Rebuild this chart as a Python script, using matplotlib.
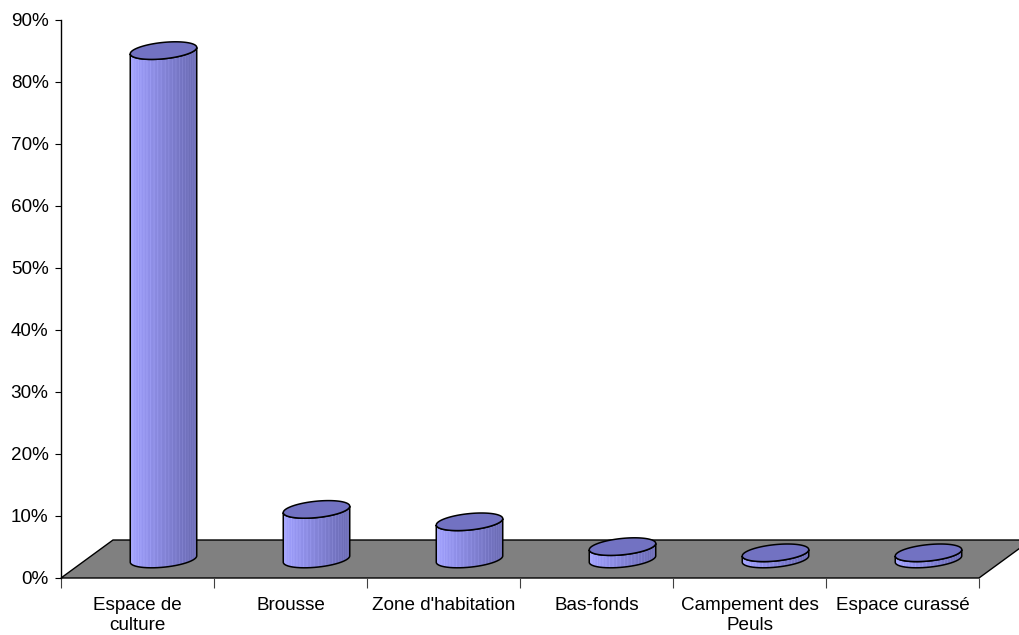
import numpy as np
import matplotlib
matplotlib.use("Agg")
import matplotlib.pyplot as plt
from matplotlib.patches import Polygon

plt.rcParams['font.family'] = ['Liberation Sans', 'DejaVu Sans']

# Land-use categories and their share of the surveyed area
categories = ["Espace de\nculture", "Brousse", "Zone d'habitation",
              "Bas-fonds", "Campement des\nPeuls", "Espace curassé"]
shares = [0.82, 0.08, 0.06, 0.02, 0.01, 0.01]
ytick_values = [0.0, 0.1, 0.2, 0.3, 0.4, 0.5, 0.6, 0.7, 0.8, 0.9]
ytick_labels = ["0%", "10%", "20%", "30%", "40%", "50%", "60%", "70%", "80%", "90%"]

W, H = 1019, 635
fig = plt.figure(figsize=(W / 100, H / 100), dpi=100)
fig.patch.set_facecolor("white")

# front plane of the pseudo-3D chart
x0, x1, y0, y1 = 61, 979, 578, 20
ax = fig.add_axes([x0 / W, (H - y0) / H, (x1 - x0) / W, (y0 - y1) / H])
n = len(categories)
ax.set_xlim(0, n)
ax.set_ylim(0, 0.9)
ax.patch.set_alpha(0)

px_x = (x1 - x0) / n        # pixels per category unit
px_y = (y0 - y1) / 0.9      # pixels per value unit

# oblique depth vector (floor goes back and up)
DX, DY = 52 / px_x, 38 / px_y

# grey floor
floor = Polygon([(0, 0), (n, 0), (n + DX, DY), (DX, DY)], closed=True,
                facecolor="#808080", edgecolor="black", lw=1.0,
                zorder=1, clip_on=False)
ax.add_patch(floor)

# cylinder geometry
R = 31 / px_x      # half width along the category axis
A = 12 / px_x      # depth component of the ellipse (x)
B = 8.8 / px_y     # depth component of the ellipse (y)
ext = np.hypot(R, A)
t_r = np.arctan2(A, R)

light = np.array([0xA0, 0xA0, 0xFF]) / 255
dark = np.array([0x68, 0x68, 0xB0]) / 255
top_col = "#7272C2"


def ellipse(cx, cy, t):
    return cx + R * np.cos(t) + A * np.sin(t), cy + B * np.sin(t)


for i, v in enumerate(shares):
    cx = i + 0.5 + DX / 2
    base = DY / 2
    top = base + v
    z = 2 + i

    tf = np.linspace(t_r, t_r - np.pi, 80)
    xt, yt = ellipse(cx, top, tf)
    xb, yb = ellipse(cx, base, tf[::-1])
    side_pts = np.column_stack([np.concatenate([xt, xb]),
                                np.concatenate([yt, yb])])
    side = Polygon(side_pts, closed=True, facecolor="none",
                   edgecolor="black", lw=1.1, zorder=z + 0.2)
    ax.add_patch(side)

    # horizontal shading with faint facet streaks
    npx = 132
    f = np.linspace(0, 1, npx)
    cols = light[None, :] * (1 - f[:, None]) + dark[None, :] * f[:, None]
    phis = np.linspace(0.15, np.pi - 0.15, 26)
    for ph in phis:
        k = int((1 - np.cos(ph)) / 2 * (npx - 1))
        cols[k] = np.minimum(cols[k] + 0.09, 1)
    img = np.repeat(cols[None, :, :], 2, axis=0)
    clip = Polygon(side_pts, closed=True, transform=ax.transData)
    im = ax.imshow(img, extent=[cx - ext, cx + ext, base - B - 0.001, top + B],
                   aspect="auto", interpolation="bilinear", zorder=z,
                   origin="lower")
    im.set_clip_path(clip)

    ta = np.linspace(0, 2 * np.pi, 160)
    xe, ye = ellipse(cx, top, ta)
    cap = Polygon(np.column_stack([xe, ye]), closed=True, facecolor=top_col,
                  edgecolor="black", lw=1.1, zorder=z + 0.3)
    ax.add_patch(cap)

ax.set_xlim(0, n)
ax.set_ylim(0, 0.9)

for s in ["top", "right", "bottom"]:
    ax.spines[s].set_visible(False)
ax.spines["left"].set_linewidth(1.0)

ax.set_yticks(ytick_values)
ax.set_yticklabels(ytick_labels)
ax.tick_params(axis="y", length=4, width=0.8, pad=5, labelsize=13.6)

ax.set_xticks(np.arange(n + 1))
ax.set_xticklabels([""] * (n + 1))
ax.set_xticks(np.arange(n) + 0.5, minor=True)
ax.set_xticklabels(categories, minor=True)
ax.tick_params(axis="x", which="major", length=7.5, width=0.8, color="#404040")
ax.tick_params(axis="x", which="minor", length=0, pad=14, labelsize=13.6)

fig.savefig("out.png", dpi=100, facecolor="white")
